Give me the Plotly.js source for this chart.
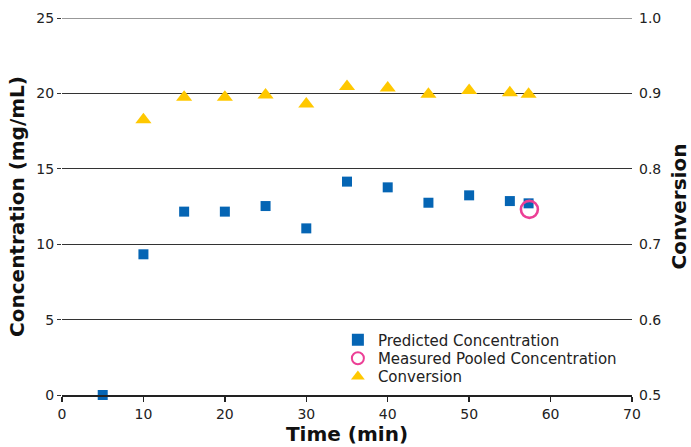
<!DOCTYPE html>
<html>
<head>
<meta charset="utf-8">
<script src="https://cdn.plot.ly/plotly-3.0.1.min.js"></script>
<style>html,body{margin:0;padding:0;background:#fff;}#chart{width:691px;height:447px;}</style>
</head>
<body>
<div id="chart"></div>
<script>
// Time (min)
const timePred = [5, 10, 15, 20, 25, 30, 35, 40, 45, 50, 55, 57.3];
// Predicted concentration (mg/mL)
const predConc = [0, 9.33, 12.16, 12.16, 12.53, 11.05, 14.15, 13.77, 12.75, 13.24, 12.86, 12.71];
// Measured pooled concentration
const timeMeas = [57.4];
const measConc = [12.31];
// Conversion
const timeConv = [10, 15, 20, 25, 30, 35, 40, 45, 50, 55, 57.3];
const conversion = [0.865, 0.895, 0.895, 0.898, 0.886, 0.909, 0.907, 0.899, 0.904, 0.901, 0.899];

const FONT = 'DejaVu Sans, Verdana, sans-serif';

const traces = [
  {
    x: timePred, y: predConc, type: 'scatter', mode: 'markers',
    name: 'Predicted Concentration', legend: 'legend',
    marker: {symbol: 'square', size: 10, color: '#0565B4', line: {width: 0}},
    cliponaxis: false
  },
  {
    x: timeMeas, y: measConc, type: 'scatter', mode: 'markers',
    name: 'Measured Pooled Concentration', legend: 'legend2',
    marker: {symbol: 'circle-open', size: 17, color: '#EC3F96', line: {width: 2.6, color: '#EC3F96'}},
    cliponaxis: false
  },
  {
    x: timeConv, y: conversion, type: 'scatter', mode: 'markers',
    name: 'Conversion', yaxis: 'y2', legend: 'legend3',
    marker: {symbol: 'triangle-up', size: 14, color: '#FFC800', line: {width: 0}},
    cliponaxis: false
  }
];

function leg(y) {
  return {
    x: 0.484, y: y, xanchor: 'left', yanchor: 'middle',
    bgcolor: 'rgba(0,0,0,0)', font: {family: FONT, size: 15, color: '#222'},
    tracegroupgap: 0, itemsizing: 'constant'
  };
}

const layout = {
  width: 691, height: 447,
  margin: {l: 62, r: 59, t: 18, b: 52},
  paper_bgcolor: '#fff', plot_bgcolor: '#fff',
  font: {family: FONT, size: 14, color: '#222'},
  showlegend: true,
  legend: leg(0.1459),
  legend2: leg(0.0968),
  legend3: leg(0.0485),
  shapes: [
    {type: 'line', xref: 'paper', yref: 'y', x0: 0, x1: 1, y0: 25, y1: 25,
     line: {color: '#333', width: 1}, layer: 'below'}
  ],
  xaxis: {
    range: [0, 70], dtick: 10, tick0: 0,
    showgrid: false, zeroline: false,
    showline: true, linecolor: '#222', linewidth: 2,
    ticks: 'outside', ticklen: 5, tickwidth: 1.5, tickcolor: '#222',
    tickfont: {family: FONT, size: 14, color: '#222'},
    title: {text: 'Time (min)', font: {family: FONT, size: 20, color: '#111', weight: 'bold'}, standoff: 4}
  },
  yaxis: {
    range: [0, 25], dtick: 5, tick0: 0,
    showgrid: true, gridcolor: '#333', gridwidth: 1,
    zeroline: false, showline: false,
    ticks: 'outside', ticklen: 4, tickwidth: 1, tickcolor: '#333',
    tickfont: {family: FONT, size: 14, color: '#222'},
    title: {text: 'Concentration (mg/mL)', font: {family: FONT, size: 20, color: '#111', weight: 'bold'}, standoff: 6}
  },
  yaxis2: {
    range: [0.5, 1.0], dtick: 0.1, tick0: 0.5, tickformat: '.1f',
    overlaying: 'y', side: 'right',
    showgrid: false, zeroline: false, showline: false,
    ticks: '', ticklabelstandoff: 6,
    tickfont: {family: FONT, size: 14, color: '#222'},
    title: {text: 'Conversion', font: {family: FONT, size: 20, color: '#111', weight: 'bold'}, standoff: 12}
  }
};

Plotly.newPlot('chart', traces, layout, {displayModeBar: false, staticPlot: true});
</script>
</body>
</html>
